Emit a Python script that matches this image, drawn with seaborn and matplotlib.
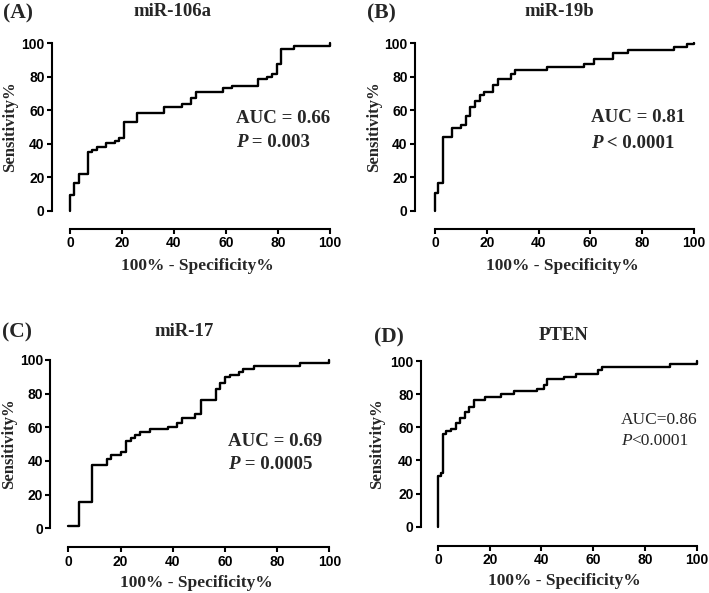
import matplotlib
matplotlib.use("Agg")
import matplotlib.pyplot as plt
import seaborn as sns
import pandas as pd

# === DATA ===
# ROC curve corners (100% - specificity, sensitivity)
fpr_106a = [0, 0, 1.7, 3.6, 7.1, 8.6, 10.5, 13.8, 17.3, 19.0, 20.8, 25.6, 36.3, 43.2,
            46.5, 48.3, 58.9, 62.2, 72.4, 75.6, 77.6, 79.5, 81.2, 86.2, 100]
tpr_106a = [0, 9.4, 16.4, 21.9, 34.9, 36.3, 38.3, 40.2, 41.6, 43.6, 52.8, 58.2, 62.2, 63.8,
            67.5, 71.0, 73.0, 74.5, 78.5, 80.1, 81.5, 87.5, 96.6, 98.4, 100]

fpr_19b = [0, 0, 1.3, 3.0, 6.7, 10.0, 11.8, 13.7, 15.4, 17.4, 19.0, 22.5, 24.2, 29.3,
           30.9, 43.1, 57.7, 61.5, 68.9, 74.7, 92.1, 97.3, 100]
tpr_19b = [0, 10.4, 16.3, 43.8, 49.2, 51.2, 56.6, 62.2, 65.8, 69.2, 70.8, 74.8, 78.8, 81.8,
           84.2, 85.8, 87.6, 90.6, 94.0, 96.0, 98.0, 99.4, 100]

fpr_17 = [0, 4.0, 9.1, 14.8, 16.5, 20.1, 22.0, 23.9, 25.7, 27.6, 31.2, 38.2, 41.8, 43.7,
          48.7, 51.0, 56.5, 58.3, 60.2, 61.8, 65.3, 66.9, 71.1, 88.9, 100]
tpr_17 = [1.6, 15.6, 37.8, 41.4, 43.4, 45.3, 51.9, 53.7, 55.3, 57.2, 58.8, 60.2, 62.6, 65.5,
          67.8, 76.1, 82.6, 86.3, 89.9, 91.3, 92.9, 94.5, 96.5, 98.4, 100]

fpr_pten = [0, 0, 1.0, 1.8, 3.2, 4.9, 6.8, 8.6, 10.3, 12.0, 13.8, 18.0, 24.2, 29.4, 38.3,
            41.0, 42.3, 48.7, 53.5, 61.8, 63.5, 89.8, 100]
tpr_pten = [0, 30.6, 32.5, 56.1, 57.6, 59.1, 62.6, 65.6, 69.2, 72.2, 76.3, 78.3, 79.9, 81.7,
            83.3, 85.3, 88.9, 90.3, 92.3, 94.8, 96.5, 98.4, 100]

panel_letters = ["(A)", "(B)", "(C)", "(D)"]
panel_titles = ["miR-106a", "miR-19b", "miR-17", "PTEN"]
auc_texts = ["AUC = 0.66", "AUC = 0.81", "AUC = 0.69", "AUC=0.86"]
p_texts = [" = 0.003", " < 0.0001", " = 0.0005", "<0.0001"]
ticks = [0, 20, 40, 60, 80, 100]

curves = [(fpr_106a, tpr_106a), (fpr_19b, tpr_19b), (fpr_17, tpr_17), (fpr_pten, tpr_pten)]

# === LAYOUT (figure fractions, spine offsets in points) ===
W, H = 709, 593
axes_px = [(70, 210.7, 260, 167.4), (435, 210.7, 259, 167.4),
           (68.3, 528.3, 261, 168.3), (438, 526.7, 258.7, 165.7)]
offsets = [{"left": 13, "bottom": 13}, {"left": 14.4, "bottom": 13},
           {"left": 13, "bottom": 13.7}, {"left": 12.2, "bottom": 13.7}]
ylabel_x = [-0.2, -0.205, -0.196, -0.205]
letter_px = [(3, 13), (367, 13), (2, 332), (374, 337)]
title_px = [(172, 11), (559, 11), (184, 331), (564, 335)]
# text anchor (x left, y of AUC line, y of P line) in data units
stat_pos = [(63.8, 56, 42), (60.2, 57, 41.5), (61.2, 52.5, 39), (70.7, 65.3, 53.2)]

sns.set_style("ticks")
plt.rcParams['font.family'] = ['Liberation Serif', 'DejaVu Serif']

fig = plt.figure(figsize=(W / 100, H / 100), dpi=100)

for i, (fpr, tpr) in enumerate(curves):
    x0, y0, w, h = axes_px[i]
    ax = fig.add_axes([x0 / W, 1 - y0 / H, w / W, h / H])
    df = pd.DataFrame({"fpr": fpr, "tpr": tpr})
    sns.lineplot(data=df, x="fpr", y="tpr", estimator=None, sort=False,
                 drawstyle="steps-post", color="black", lw=1.7, ax=ax)
    for line in ax.lines:
        line.set_clip_on(False)

    ax.set_xlim(0, 100)
    ax.set_ylim(0, 100)
    ax.set_xticks(ticks)
    ax.set_yticks(ticks)
    sns.despine(ax=ax, offset=offsets[i])
    for s in ["left", "bottom"]:
        ax.spines[s].set_linewidth(1.5)
        ax.spines[s].set_color("black")
    ax.tick_params(width=1.5, length=3.8, direction="out", colors="black", pad=1.5)
    for lab in ax.get_xticklabels() + ax.get_yticklabels():
        lab.set_fontfamily("Liberation Sans")
        lab.set_fontweight("bold")
        lab.set_fontsize(10)

    ax.set_xlabel("100% - Specificity%", fontweight="bold", fontsize=12.5)
    ax.set_ylabel("Sensitivity%", fontweight="bold", fontsize=12)
    ax.xaxis.set_label_coords(0.49, -0.28)
    ax.yaxis.set_label_coords(ylabel_x[i], 0.5)

    # AUC / P annotation
    bold = i < 3
    wt = "bold" if bold else "normal"
    fs = 13.6 if bold else 12.5
    tx, ya, yp = stat_pos[i]
    ax.text(tx, ya, auc_texts[i], fontsize=fs, fontweight=wt, ha="left",
            va="center_baseline", clip_on=False)
    ptxt = ax.text(tx, yp, "P", fontsize=fs, fontweight=wt, style="italic",
                   ha="left", va="center_baseline", clip_on=False)
    ax.annotate(p_texts[i], xy=(1, yp), xycoords=(ptxt, "data"), fontsize=fs,
                fontweight=wt, ha="left", va="center_baseline", annotation_clip=False)

    fig.text(letter_px[i][0] / W, 1 - letter_px[i][1] / H, panel_letters[i],
             fontsize=15.5, fontweight="bold", ha="left", va="center")
    fig.text(title_px[i][0] / W, 1 - title_px[i][1] / H, panel_titles[i],
             fontsize=13.5, fontweight="bold", ha="center", va="center")

fig.savefig("out.png", dpi=100)
